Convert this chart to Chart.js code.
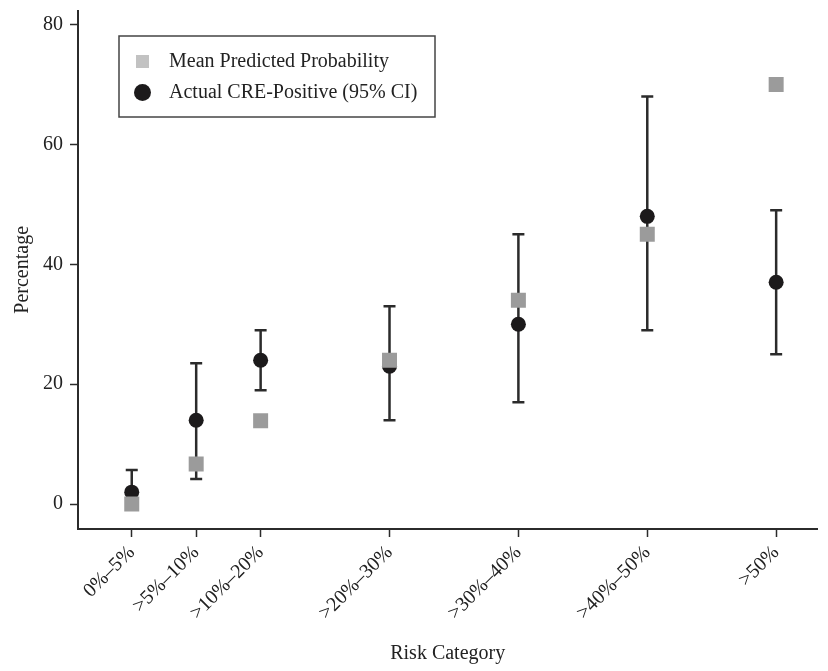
<!DOCTYPE html>
<html>
<head>
<meta charset="utf-8">
<script src="https://cdn.jsdelivr.net/npm/chart.js@4.4.1/dist/chart.umd.min.js"></script>
<style>
  html, body { margin: 0; padding: 0; background: #fff; }
  #wrap { width: 828px; height: 671px; }
</style>
</head>
<body>
<div id="wrap"><canvas id="chart"></canvas></div>
<script>
// data
const categories = ["0%–5%", ">5%–10%", ">10%–20%", ">20%–30%", ">30%–40%", ">40%–50%", ">50%"];
const categoryPos = [0, 1, 2, 4, 6, 8, 10];
const predicted = [0, 6.7, 13.9, 24, 34, 45, 70];
const actual = [2, 14, 24, 23, 30, 48, 37];
const ciLow = [0, 4.2, 19, 14, 17, 29, 25];
const ciHigh = [5.7, 23.5, 29, 33, 45, 68, 49];
const yTicks = [0, 20, 40, 60, 80];

const FONT = '"Liberation Serif", "Times New Roman", serif';
const INK = "#2b2b2b";
const GREY = "#9b9b9b";
const BLACK = "#1c1a1b";

function points(vals) {
  return categoryPos.map((p, i) => ({ x: p, y: vals[i] }));
}

// 95% CI whiskers, drawn under the markers
const errorBars = {
  id: "errorBars",
  beforeDatasetsDraw(chart) {
    const { ctx, scales: { x, y } } = chart;
    ctx.save();
    ctx.strokeStyle = INK;
    ctx.lineWidth = 2.5;
    categoryPos.forEach((p, i) => {
      const px = x.getPixelForValue(p);
      const top = y.getPixelForValue(ciHigh[i]);
      const bot = y.getPixelForValue(ciLow[i]);
      ctx.beginPath();
      ctx.moveTo(px, top);
      ctx.lineTo(px, bot);
      ctx.moveTo(px - 6, top);
      ctx.lineTo(px + 6, top);
      ctx.moveTo(px - 6, bot);
      ctx.lineTo(px + 6, bot);
      ctx.stroke();
    });
    ctx.restore();
  },
};

// boxed legend inside the plot, like the original
const boxLegend = {
  id: "boxLegend",
  afterDraw(chart) {
    const ctx = chart.ctx;
    const sets = chart.data.datasets;
    ctx.save();
    ctx.strokeStyle = "#444";
    ctx.lineWidth = 1.5;
    ctx.strokeRect(119, 36, 316, 81);

    ctx.fillStyle = "#c2c2c2";
    ctx.fillRect(136, 55, 13, 13);
    ctx.fillStyle = BLACK;
    ctx.beginPath();
    ctx.arc(142.5, 92.5, 8.5, 0, Math.PI * 2);
    ctx.fill();

    ctx.fillStyle = "#222";
    ctx.font = "20px " + FONT;
    ctx.textBaseline = "middle";
    ctx.fillText(sets[0].label, 169, 62);
    ctx.fillText(sets[1].label, 169, 93);
    ctx.restore();
  },
};

new Chart(document.getElementById("chart"), {
  type: "scatter",
  data: {
    datasets: [
      {
        label: "Mean Predicted Probability",
        data: points(predicted),
        pointStyle: "rect",
        pointRadius: 10.6,
        backgroundColor: GREY,
        borderWidth: 0,
      },
      {
        label: "Actual CRE-Positive (95% CI)",
        data: points(actual),
        pointStyle: "circle",
        pointRadius: 7.5,
        backgroundColor: BLACK,
        borderWidth: 0,
      },
    ],
  },
  options: {
    responsive: true,
    maintainAspectRatio: false,
    animation: false,
    events: [],
    layout: { padding: { top: 8, right: 0, bottom: 0, left: 0 } },
    plugins: { legend: { display: false }, tooltip: { enabled: false } },
    scales: {
      x: {
        type: "linear",
        min: -0.834,
        max: 10.64,
        afterBuildTicks: (s) => { s.ticks = categoryPos.map((v) => ({ value: v })); },
        afterFit: (s) => { s.height = 142; s.paddingLeft = 0; s.paddingRight = 0; },
        ticks: {
          callback: (v, i) => categories[i],
          autoSkip: false,
          minRotation: 45,
          maxRotation: 45,
          padding: 4,
          color: "#222",
          font: { family: FONT, size: 20 },
        },
        grid: { drawOnChartArea: false, drawTicks: true, tickLength: 8, color: INK, tickWidth: 1.5 },
        border: { color: INK, width: 2 },
        title: {
          display: true,
          text: "Risk Category",
          color: "#222",
          font: { family: FONT, size: 20 },
          padding: { top: 4, bottom: 5 },
        },
      },
      y: {
        type: "linear",
        min: -4.15,
        max: 82.32,
        afterBuildTicks: (s) => { s.ticks = yTicks.map((v) => ({ value: v })); },
        afterFit: (s) => { s.width = 78; s.paddingTop = 0; s.paddingBottom = 0; },
        ticks: {
          padding: 7,
          color: "#222",
          font: { family: FONT, size: 20 },
        },
        grid: { drawOnChartArea: false, drawTicks: true, tickLength: 8, color: INK, tickWidth: 1.5 },
        border: { color: INK, width: 2 },
        title: {
          display: true,
          text: "Percentage",
          color: "#222",
          font: { family: FONT, size: 20 },
          padding: { top: 11, bottom: 0 },
        },
      },
    },
  },
  plugins: [errorBars, boxLegend],
});
</script>
</body>
</html>
